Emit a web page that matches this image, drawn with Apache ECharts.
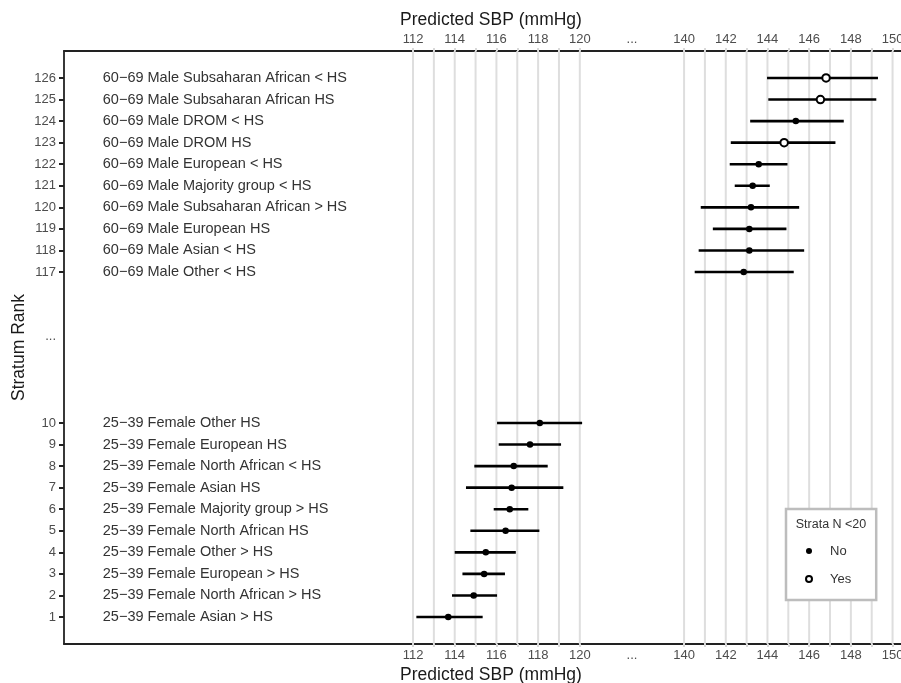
<!DOCTYPE html>
<html><head><meta charset="utf-8">
<script src="https://cdn.jsdelivr.net/npm/echarts@6/dist/echarts.min.js"></script>
<style>html,body{margin:0;padding:0;background:#fff}#c{width:901px;height:683px}</style>
</head><body><div id="c"></div>
<script>
// ---- data ----
const ranks = [1,2,3,4,5,6,7,8,9,10,117,118,119,120,121,122,123,124,125,126];
const strata = [
  '25\u221239 Female Asian > HS',
  '25\u221239 Female North African > HS',
  '25\u221239 Female European > HS',
  '25\u221239 Female Other > HS',
  '25\u221239 Female North African HS',
  '25\u221239 Female Majority group > HS',
  '25\u221239 Female Asian HS',
  '25\u221239 Female North African < HS',
  '25\u221239 Female European HS',
  '25\u221239 Female Other HS',
  '60\u221269 Male Other < HS',
  '60\u221269 Male Asian < HS',
  '60\u221269 Male European HS',
  '60\u221269 Male Subsaharan African > HS',
  '60\u221269 Male Majority group < HS',
  '60\u221269 Male European < HS',
  '60\u221269 Male DROM HS',
  '60\u221269 Male DROM < HS',
  '60\u221269 Male Subsaharan African HS',
  '60\u221269 Male Subsaharan African < HS'
];
const estimate = [113.69,114.91,115.41,115.49,116.44,116.64,116.73,116.83,117.61,118.08,
                  142.86,143.13,143.13,143.21,143.29,143.58,144.80,145.36,146.54,146.81];
const lower    = [112.16,113.87,114.37,114.00,114.75,115.87,114.54,114.94,116.11,116.03,
                  140.51,140.70,141.38,140.80,142.43,142.19,142.24,143.17,144.04,143.98];
const upper    = [115.34,116.03,116.41,116.93,118.06,117.53,119.21,118.46,119.10,120.11,
                  145.26,145.76,144.91,145.52,144.11,144.96,147.26,147.66,149.22,149.30];
const smallN   = ['No','No','No','No','No','No','No','No','No','No',
                  'No','No','No','No','No','No','Yes','No','Yes','Yes'];
const xTickValues = [112,114,116,118,120,137.5,140,142,144,146,148,150];
const xTickLabels = ['112','114','116','118','120','...','140','142','144','146','148','150'];
const xGridValues = [112,113,114,115,116,117,118,119,120,140,141,142,143,144,145,146,147,148,149,150];
const yTickRanks = [1,2,3,4,5,6,7,8,9,10,117,118,119,120,121,122,123,124,125,126];
const yBreakLabel = '...';
const yBreakRank = 114;

// ---- broken-axis transforms ----
const tx = v => v >= 130 ? v - 15 : v;
const ty = r => r > 100 ? r - 100 : r;

const FONT = "'Liberation Sans', Arial, sans-serif";
const X_MIN = 95.26, X_MAX = 136.22, Y_MIN = -0.25, Y_MAX = 27.25;
const LABEL_X = 97.12;

const xLabelMap = {};
xTickValues.forEach((v, i) => { xLabelMap[tx(v)] = xTickLabels[i]; });
const yLabelMap = {};
yTickRanks.forEach(r => { yLabelMap[ty(r)] = String(r); });
yLabelMap[ty(yBreakRank)] = yBreakLabel;

const xAxisCommon = {
  type: 'value', min: X_MIN, max: X_MAX,
  name: 'Predicted SBP (mmHg)', nameLocation: 'middle', nameMoveOverlap: false,
  nameTextStyle: { fontSize: 17.5, color: '#1a1a1a', fontFamily: FONT },
  axisLine: { show: true, onZero: false, lineStyle: { color: '#222', width: 1.8 } },
  axisTick: { show: true, customValues: xGridValues.map(tx), length: 3, lineStyle: { color: '#d9d9d9', width: 2 } },
  axisLabel: { customValues: xTickValues.map(tx), formatter: v => xLabelMap[v] !== undefined ? xLabelMap[v] : '',
               fontSize: 13, color: '#4d4d4d', fontFamily: FONT, margin: 5, hideOverlap: false },
  splitLine: { show: false }
};

const noData = [], yesData = [];
estimate.forEach((e, i) => {
  (smallN[i] === 'Yes' ? yesData : noData).push([tx(e), ty(ranks[i])]);
});

const option = {
  animation: false,
  backgroundColor: '#fff',
  grid: { left: 64, top: 51, width: 854, bottom: 39, outerBoundsMode: 'none', containLabel: false },
  xAxis: [
    Object.assign({}, xAxisCommon, { position: 'bottom', nameGap: 22 }),
    Object.assign({}, xAxisCommon, { position: 'top', nameGap: 22 })
  ],
  yAxis: {
    type: 'value', min: Y_MIN, max: Y_MAX,
    name: 'Stratum Rank', nameLocation: 'middle', nameGap: 36, nameMoveOverlap: false,
    nameTextStyle: { fontSize: 17.5, color: '#1a1a1a', fontFamily: FONT },
    axisLine: { show: true, onZero: false, lineStyle: { color: '#222', width: 1.8 } },
    axisTick: { show: true, customValues: yTickRanks.map(ty), length: 5, lineStyle: { color: '#222', width: 2 } },
    axisLabel: { customValues: yTickRanks.map(ty).concat([ty(yBreakRank)]),
                 formatter: v => yLabelMap[v] !== undefined ? yLabelMap[v] : '',
                 fontSize: 13, color: '#4d4d4d', fontFamily: FONT, margin: 8 },
    splitLine: { show: false }
  },
  legend: {
    left: 786, top: 509, orient: 'vertical',
    padding: [35, 25, 14, 19], itemGap: 14,
    itemWidth: 32, itemHeight: 6,
    backgroundColor: '#fff', borderColor: '#bdbdbd', borderWidth: 2.5, borderRadius: 0,
    textStyle: { fontSize: 13, color: '#333', fontFamily: FONT, lineHeight: 14 },
    data: [
      { name: 'No', icon: 'circle', itemStyle: { color: '#000', borderWidth: 0 } },
      { name: 'Yes', icon: 'circle', itemStyle: { color: '#fff', borderColor: '#000', borderWidth: 2 } }
    ],
    z: 10
  },
  graphic: [{
    type: 'text', x: 831, y: 525, z: 100,
    style: { text: 'Strata N <20', fontSize: 12.5, fill: '#333', fontFamily: FONT, align: 'center', verticalAlign: 'middle' }
  }],
  series: [
    {
      type: 'custom', name: 'grid', z: 1, silent: true,
      data: xGridValues.map(v => [tx(v)]),
      encode: { x: 0 },
      renderItem: (params, api) => {
        const a = api.coord([api.value(0), Y_MIN]);
        const b = api.coord([api.value(0), Y_MAX]);
        return { type: 'line', shape: { x1: a[0], y1: a[1], x2: b[0], y2: b[1] },
                 style: { stroke: '#dedede', lineWidth: 2 } };
      }
    },
    {
      type: 'custom', name: 'labels', z: 2, silent: true,
      data: ranks.map(r => [LABEL_X, ty(r)]),
      encode: { x: 0, y: 1 },
      renderItem: (params, api) => {
        const p = api.coord([api.value(0), api.value(1)]);
        return { type: 'text', x: p[0], y: p[1],
                 style: { text: strata[params.dataIndex], fontSize: 14.5, fill: '#333', fontFamily: FONT,
                          align: 'left', verticalAlign: 'middle' } };
      }
    },
    {
      type: 'custom', name: 'ci', z: 3, silent: true,
      data: ranks.map((r, i) => [tx(lower[i]), tx(upper[i]), ty(r)]),
      encode: { x: [0, 1], y: 2 },
      renderItem: (params, api) => {
        const a = api.coord([api.value(0), api.value(2)]);
        const b = api.coord([api.value(1), api.value(2)]);
        return { type: 'line', shape: { x1: a[0], y1: a[1], x2: b[0], y2: b[1] },
                 style: { stroke: '#000', lineWidth: 2.6 } };
      }
    },
    {
      type: 'scatter', name: 'No', z: 4, data: noData, symbol: 'circle', symbolSize: 6.5,
      itemStyle: { color: '#000', opacity: 1 }
    },
    {
      type: 'scatter', name: 'Yes', z: 4, data: yesData, symbol: 'circle', symbolSize: 7.5,
      itemStyle: { color: '#fff', borderColor: '#000', borderWidth: 2, opacity: 1 }
    }
  ]
};

const chart = echarts.init(document.getElementById('c'), null, { renderer: 'canvas' });
chart.setOption(option);
</script>
</body></html>
